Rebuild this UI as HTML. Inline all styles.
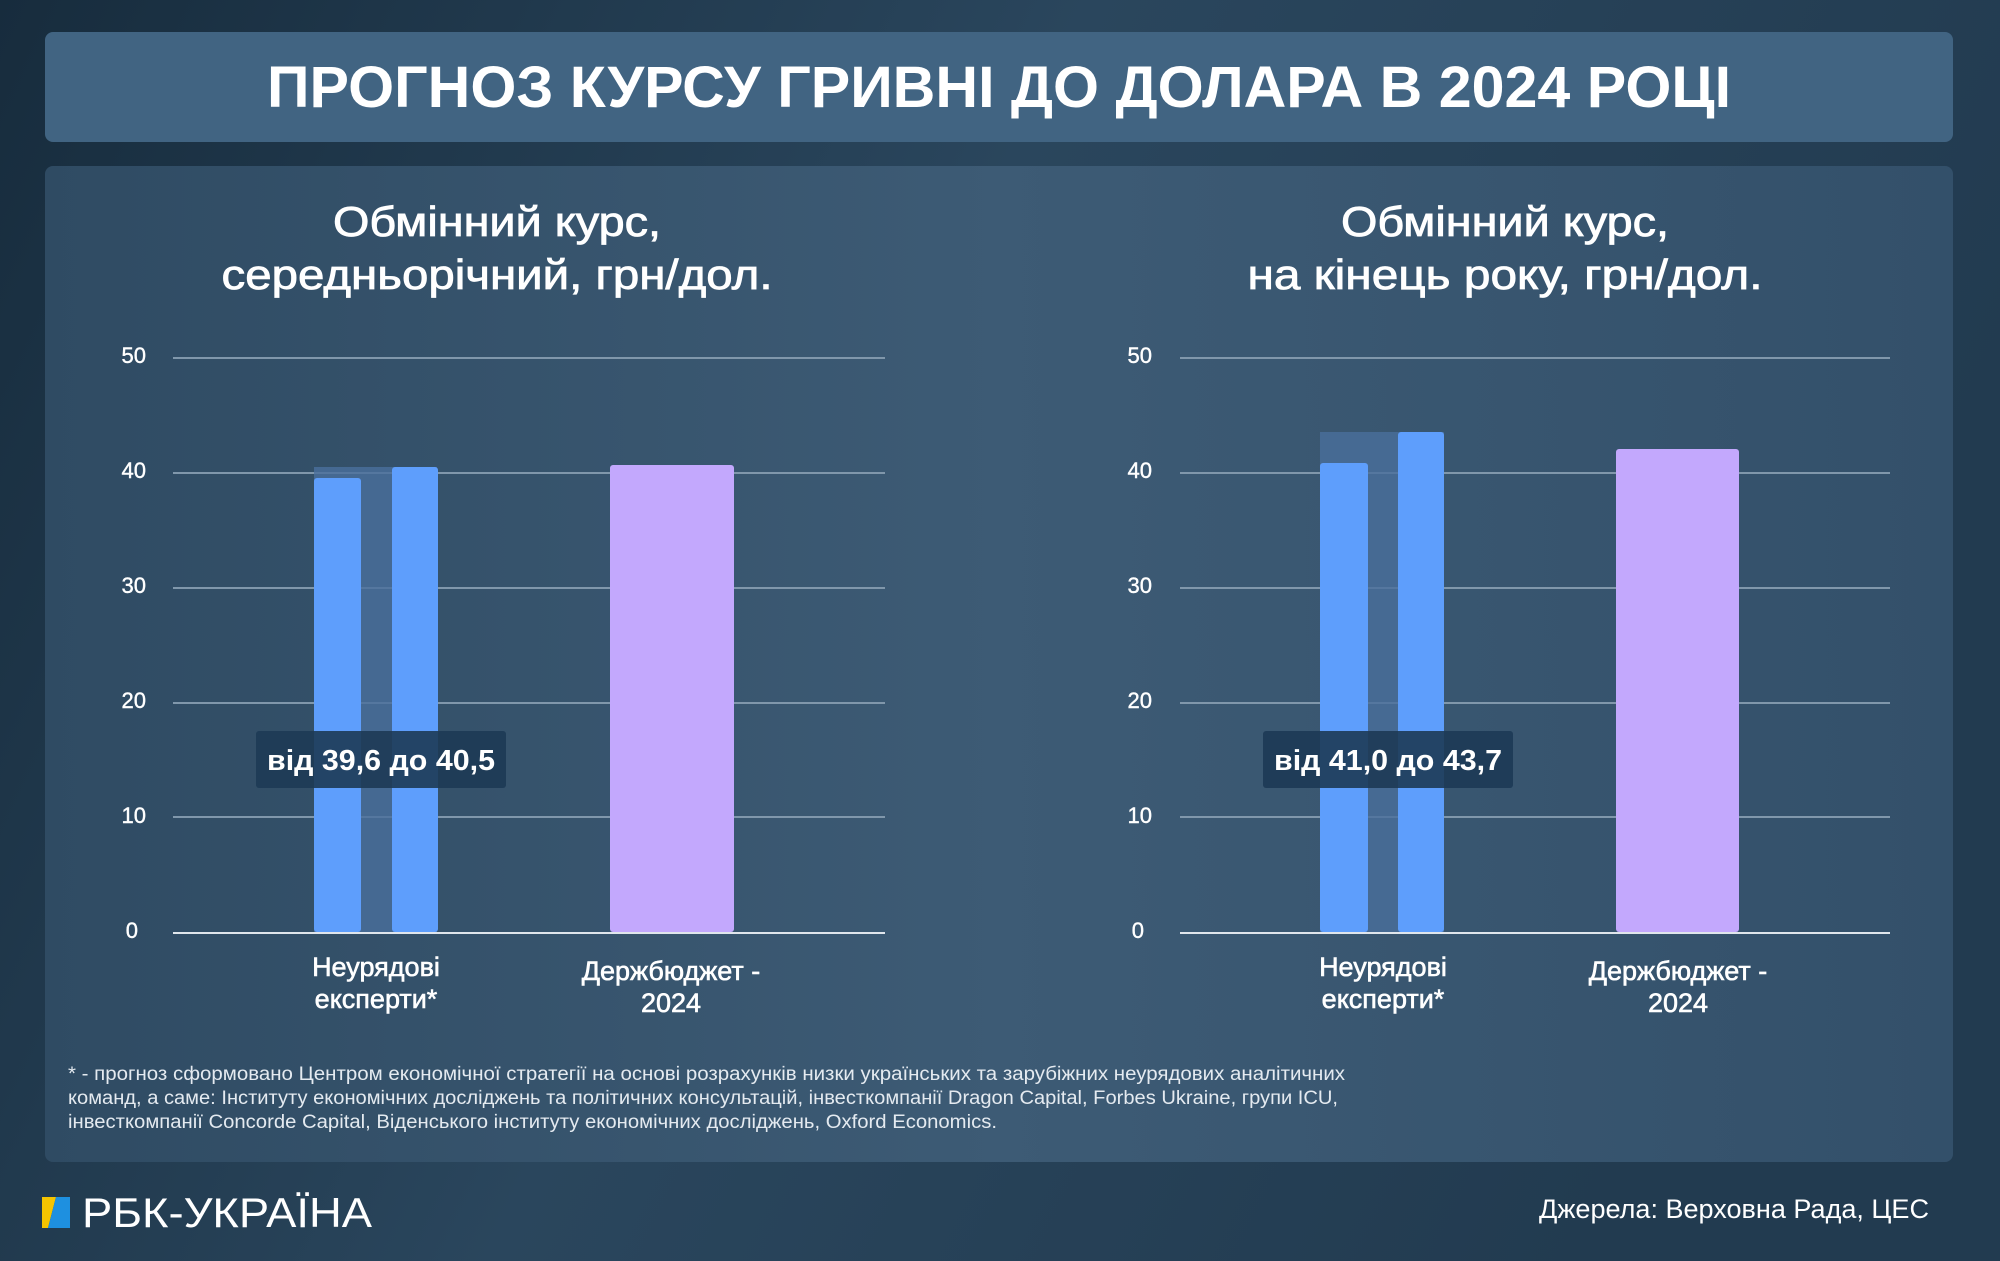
<!DOCTYPE html>
<html><head><meta charset="utf-8"><style>
html,body{margin:0;padding:0;width:2000px;height:1261px;overflow:hidden;background:#1c3347}
svg{display:block}
text{font-family:"Liberation Sans",sans-serif;fill:#fff}
</style></head><body>
<svg width="2000" height="1261" viewBox="0 0 2000 1261" xmlns="http://www.w3.org/2000/svg">
<defs>
<linearGradient id="bg" x1="0" y1="0" x2="1" y2="0.3">
<stop offset="0" stop-color="#172c3d"/><stop offset="0.5" stop-color="#2a465d"/><stop offset="1" stop-color="#223b50"/>
</linearGradient>
<linearGradient id="panel" x1="0" y1="0" x2="1" y2="0">
<stop offset="0" stop-color="#2f4b63"/><stop offset="0.5" stop-color="#3d5b75"/><stop offset="1" stop-color="#33506a"/>
</linearGradient>
</defs>
<rect width="2000" height="1261" fill="url(#bg)"/>
<rect x="45" y="32" width="1908" height="110" rx="8" fill="#416482"/>
<text x="999" y="107" font-size="58" font-weight="bold" text-anchor="middle" textLength="1464" lengthAdjust="spacingAndGlyphs">ПРОГНОЗ КУРСУ ГРИВНІ ДО ДОЛАРА В 2024 РОЦІ</text>
<rect x="45" y="166" width="1908" height="996" rx="8" fill="url(#panel)"/>

<g font-size="42" text-anchor="middle" stroke="#fff" stroke-width="0.8">
<text x="497" y="236" textLength="328" lengthAdjust="spacingAndGlyphs">Обмінний курс,</text>
<text x="497" y="289" textLength="551" lengthAdjust="spacingAndGlyphs">середньорічний, грн/дол.</text>
<text x="1505" y="236" textLength="328" lengthAdjust="spacingAndGlyphs">Обмінний курс,</text>
<text x="1505" y="289" textLength="515" lengthAdjust="spacingAndGlyphs">на кінець року, грн/дол.</text>
</g>

<g stroke="#8097ab" stroke-width="2">
<line x1="173" y1="358" x2="885" y2="358"/><line x1="173" y1="473" x2="885" y2="473"/><line x1="173" y1="588" x2="885" y2="588"/><line x1="173" y1="703" x2="885" y2="703"/><line x1="173" y1="817" x2="885" y2="817"/>
<line x1="1180" y1="358" x2="1890" y2="358"/><line x1="1180" y1="473" x2="1890" y2="473"/><line x1="1180" y1="588" x2="1890" y2="588"/><line x1="1180" y1="703" x2="1890" y2="703"/><line x1="1180" y1="817" x2="1890" y2="817"/>
</g>
<g font-size="22" text-anchor="end" stroke="#fff" stroke-width="0.4">
<text x="146" y="363">50</text><text x="146" y="478">40</text><text x="146" y="593">30</text><text x="146" y="708">20</text><text x="146" y="823">10</text><text x="138" y="938">0</text>
<text x="1152" y="363">50</text><text x="1152" y="478">40</text><text x="1152" y="593">30</text><text x="1152" y="708">20</text><text x="1152" y="823">10</text><text x="1144" y="938">0</text>
</g>

<rect x="314" y="467" width="123" height="465" fill="#4a6f9c" opacity="0.8"/>
<rect x="314" y="478" width="47" height="454" rx="3" fill="#5e9efc"/>
<rect x="392" y="467" width="46" height="465" rx="3" fill="#5e9efc"/>
<rect x="610" y="465" width="124" height="467" rx="3" fill="#c3a8fd"/>
<rect x="1320" y="432" width="124" height="500" fill="#4a6f9c" opacity="0.8"/>
<rect x="1320" y="463" width="48" height="469" rx="3" fill="#5e9efc"/>
<rect x="1398" y="432" width="46" height="500" rx="3" fill="#5e9efc"/>
<rect x="1616" y="449" width="123" height="483" rx="3" fill="#c3a8fd"/>

<line x1="173" y1="933" x2="885" y2="933" stroke="#e0e6ec" stroke-width="2"/>
<line x1="1180" y1="933" x2="1890" y2="933" stroke="#e0e6ec" stroke-width="2"/>

<rect x="256" y="731" width="250" height="57" rx="3" fill="#1d3a55" opacity="0.9"/>
<text x="381" y="770" font-size="29" font-weight="bold" text-anchor="middle" textLength="228" lengthAdjust="spacingAndGlyphs">від 39,6 до 40,5</text>
<rect x="1263" y="731" width="250" height="57" rx="3" fill="#1d3a55" opacity="0.9"/>
<text x="1388" y="770" font-size="29" font-weight="bold" text-anchor="middle" textLength="228" lengthAdjust="spacingAndGlyphs">від 41,0 до 43,7</text>

<g font-size="27" text-anchor="middle" stroke="#fff" stroke-width="0.6">
<text x="376" y="976">Неурядові</text><text x="376" y="1008">експерти*</text>
<text x="671" y="980">Держбюджет -</text><text x="671" y="1012">2024</text>
<text x="1383" y="976">Неурядові</text><text x="1383" y="1008">експерти*</text>
<text x="1678" y="980">Держбюджет -</text><text x="1678" y="1012">2024</text>
</g>

<g font-size="19">
<text x="68" y="1080" style="fill:#e4eaf0" textLength="1277" lengthAdjust="spacingAndGlyphs">* - прогноз сформовано Центром економічної стратегії на основі розрахунків низки українських та зарубіжних неурядових аналітичних</text>
<text x="68" y="1104" style="fill:#e4eaf0" textLength="1270" lengthAdjust="spacingAndGlyphs">команд, а саме: Інституту економічних досліджень та політичних консультацій, інвесткомпанії Dragon Capital, Forbes Ukraine, групи ICU,</text>
<text x="68" y="1128" style="fill:#e4eaf0" textLength="929" lengthAdjust="spacingAndGlyphs">інвесткомпанії Concorde Capital, Віденського інституту економічних досліджень, Oxford Economics.</text>
</g>

<polygon points="42,1197 56,1197 48,1228 42,1228" fill="#f5c400"/>
<polygon points="56,1197 70,1197 70,1228 48,1228" fill="#1e90e0"/>
<text x="82" y="1227" font-size="42" textLength="290" lengthAdjust="spacingAndGlyphs">РБК-УКРАЇНА</text>
<text x="1929" y="1218" font-size="27" text-anchor="end" textLength="390" lengthAdjust="spacingAndGlyphs">Джерела: Верховна Рада, ЦЕС</text>
</svg>
</body></html>
